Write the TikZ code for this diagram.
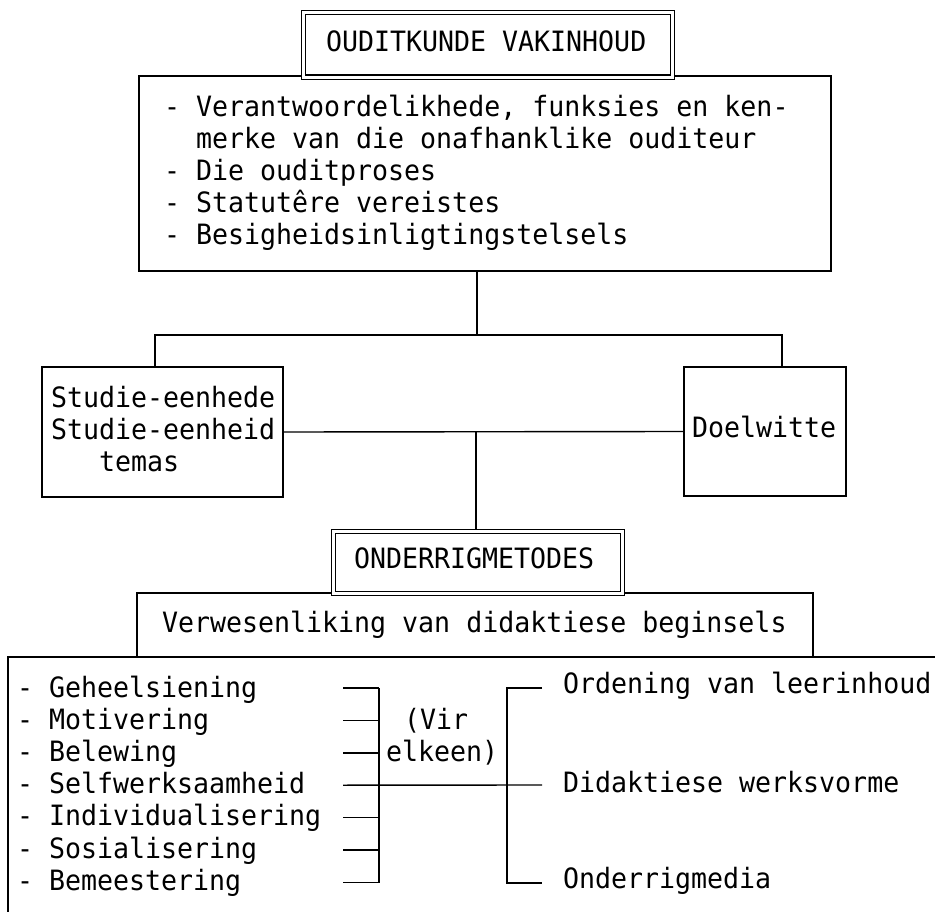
\documentclass[tikz,border=0pt]{standalone}
\usepackage{fontspec}
\newfontfamily\dmono[FakeStretch=0.95]{DejaVu Sans Mono}
\begin{document}
\begin{tikzpicture}[x=1pt,y=-1pt,
  every node/.style={inner sep=0pt,outer sep=0pt},
  box/.style={draw,line width=1.4pt,anchor=north west},
  dbl/.style={draw,double,double distance=3pt,line width=1.1pt,anchor=north west,outer sep=2.1pt},
  txt/.style={anchor=base west,font=\dmono\fontsize{28}{32}\selectfont},
  ln/.style={line width=1.4pt}]
\useasboundingbox (0,0) rectangle (935,912);

% top boxes
\node[box,minimum width=692pt,minimum height=195pt] (main) at (139,76) {};
\node[dbl,fill=white,minimum width=369.5pt,minimum height=64.5pt] (title) at (301,10.5) {};
\node[txt] (titlet) at (326,52) {OUDITKUNDE VAKINHOUD};
\node[txt] (m1) at (164,117) {- Verantwoordelikhede, funksies en ken-};
\node[txt] (m2) at (196,149) {merke van die onafhanklike ouditeur};
\node[txt] (m3) at (164,181) {- Die ouditproses};
\node[txt] (m4) at (164,213) {- Statutêre vereistes};
\node[txt] (m5) at (164,245) {- Besigheidsinligtingstelsels};

% middle boxes
\node[box,minimum width=241pt,minimum height=130pt] (left) at (42,367) {};
\node[txt] (l1) at (51,407) {Studie-eenhede};
\node[txt] (l2) at (51,439) {Studie-eenheid};
\node[txt] (l3) at (99,471) {temas};
\node[box,minimum width=162pt,minimum height=129pt] (right) at (684,367) {};
\node[txt] (r1) at (692,437) {Doelwitte};

\coordinate (t1) at (477,335);
\coordinate (ld) at (155,335);
\coordinate (rd) at (782,335);
\draw[ln] (main.south -| t1) -- (t1);
\draw[ln] (ld |- left.north) -- (ld) -- (rd) -- (rd |- right.north);
\draw[ln] (left.east) -- (right.west);
\coordinate (t2) at (476,432);

% lower boxes
\node[box,minimum width=676pt,minimum height=64pt] (verw) at (137,593) {};
\node[dbl,fill=white,minimum width=289.5pt,minimum height=61.5pt] (ond) at (331,529.5) {};
\node[txt] (ondt) at (354,568) {ONDERRIGMETODES};
\node[txt] (verwt) at (162,632) {Verwesenliking van didaktiese beginsels};
\draw[ln] (t2) -- (t2 |- ond.north);

\coordinate (bl) at (8,912);
\coordinate (btl) at (8,657);
\coordinate (btr) at (935,657);
\draw[ln] (bl) -- (btl) -- (btr);

% list
\foreach \t [count=\i from 0] in {Geheelsiening,Motivering,Belewing,Selfwerksaamheid,Individualisering,Sosialisering,Bemeestering}{
  \node[txt] (li\i) at (17,697+32.2*\i) {- \t};
  \coordinate (tk\i) at (343,688+32.4*\i);
  \draw[ln] (tk\i) -- +(36,0);
}
\coordinate (bA) at (379,688);
\coordinate (bB) at (379,883);
\draw[ln] (bA) -- (bB);
\coordinate (mid) at (542,785);
\draw[ln] (tk3) -- (mid);
\node[txt] (vir) at (404,729) {(Vir};
\node[txt] (elk) at (386,761) {elkeen)};

\coordinate (cA) at (507,688);
\coordinate (cB) at (507,883);
\draw[ln] (542,688) -- (cA) -- (cB) -- (542,883);
\node[txt] (o1) at (563,693) {Ordening van leerinhoud};
\node[txt] (o2) at (563,792) {Didaktiese werksvorme};
\node[txt] (o3) at (563,888) {Onderrigmedia};
\end{tikzpicture}
\end{document}
